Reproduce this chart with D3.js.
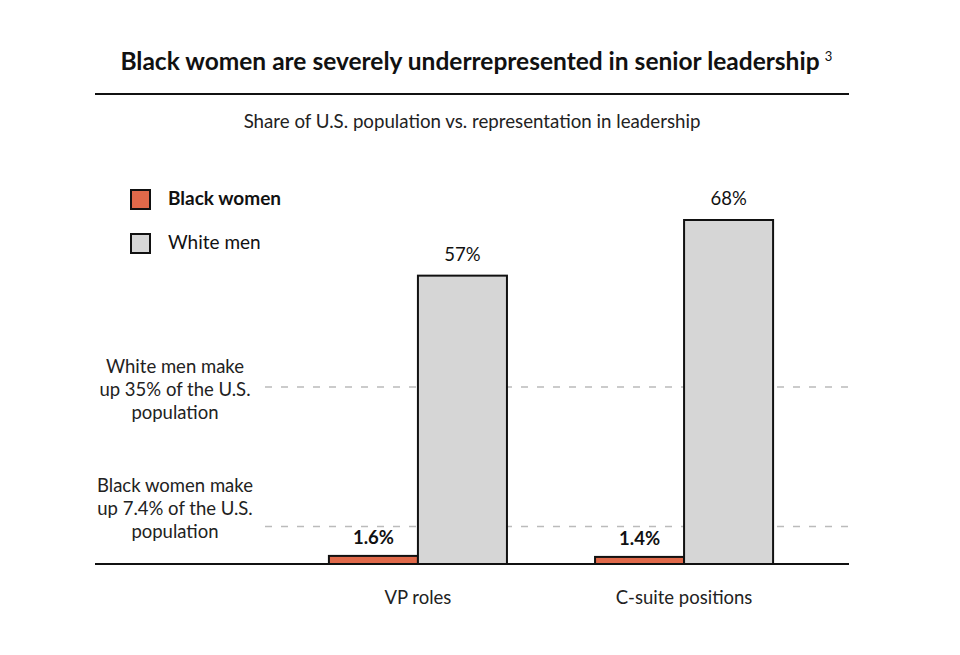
<!DOCTYPE html>
<html><head><meta charset="utf-8">
<script src="https://cdn.jsdelivr.net/npm/d3@7"></script>
<style>body{margin:0;background:#fff;} svg{display:block;font-family:Lato,"Open Sans",sans-serif;}</style>
</head><body><svg id="c" width="960" height="655"></svg>
<script>
const categories = ["VP roles", "C-suite positions"];
const seriesNames = ["Black women", "White men"];
const blackWomen = [1.6, 1.4];
const whiteMen = [57, 68];
const valueLabels = [["1.6%", "57%"], ["1.4%", "68%"]];
const refValues = [35, 7.4];
const refLabels = [["White men make", "up 35% of the U.S.", "population"], ["Black women make", "up 7.4% of the U.S.", "population"]];
const colors = ["#E0694A", "#D6D6D6"];

const svg = d3.select("#c");
const left = 95, right = 849, baseY = 564;
const refLabelShift = [9, -12];
const y = d3.scaleLinear().domain([0, 68]).range([baseY, 220]);
const x0 = d3.scaleBand().domain(categories).range([285, 817]).paddingInner(0.331).paddingOuter(0.165);
const x1 = d3.scaleBand().domain(seriesNames).range([0, x0.bandwidth()]);

// title
const title = svg.append("text").attr("x", 470).attr("y", 70).attr("text-anchor", "middle")
  .attr("font-size", 24.5).attr("font-weight", 700).attr("fill", "#111")
  .text("Black women are severely underrepresented in senior leadership");
const tb = title.node().getBBox();
svg.append("text").attr("x", tb.x + tb.width + 5).attr("y", 61).attr("font-size", 13).attr("fill", "#111").text("3");
svg.append("line").attr("x1", left).attr("x2", right).attr("y1", 94).attr("y2", 94).attr("stroke", "#111").attr("stroke-width", 2);
svg.append("text").attr("x", 472).attr("y", 128).attr("text-anchor", "middle")
  .attr("font-size", 18.7).attr("fill", "#222").text("Share of U.S. population vs. representation in leadership");

// legend
seriesNames.forEach((s, i) => {
  const ly = 190 + i * 44;
  svg.append("rect").attr("x", 131).attr("y", ly).attr("width", 19).attr("height", 19)
    .attr("fill", colors[i]).attr("stroke", "#111").attr("stroke-width", 2);
  svg.append("text").attr("x", 168).attr("y", ly + 15).attr("font-size", 19)
    .attr("font-weight", i === 0 ? 700 : 400).attr("fill", "#111").text(s);
});

// reference lines
refValues.forEach((v, i) => {
  svg.append("line").attr("x1", 265).attr("x2", right).attr("y1", y(v)).attr("y2", y(v))
    .attr("stroke", "#bbb").attr("stroke-width", 1.5).attr("stroke-dasharray", "7,9");
  const t = svg.append("text").attr("text-anchor", "middle").attr("font-size", 18.5).attr("fill", "#222");
  refLabels[i].forEach((ln, j) => {
    t.append("tspan").attr("x", 175).attr("y", y(v) + refLabelShift[i] + (j - 1) * 23).text(ln);
  });
});

// bars
const data = categories.map((c, i) => ({cat: c, vals: [blackWomen[i], whiteMen[i]]}));
const g = svg.selectAll("g.grp").data(data).join("g").attr("class", "grp")
  .attr("transform", d => `translate(${x0(d.cat)},0)`);
g.selectAll("rect").data(d => d.vals.map((v, k) => ({v, k}))).join("rect")
  .attr("x", d => x1(seriesNames[d.k])).attr("width", x1.bandwidth())
  .attr("y", d => y(d.v)).attr("height", d => baseY - y(d.v))
  .attr("fill", d => colors[d.k]).attr("stroke", "#111").attr("stroke-width", 2);
g.selectAll("text.val").data((d, i) => d.vals.map((v, k) => ({v, k, lab: valueLabels[i][k]}))).join("text")
  .attr("class", "val").attr("text-anchor", "middle")
  .attr("x", d => x1(seriesNames[d.k]) + x1.bandwidth() / 2)
  .attr("y", d => y(d.v) - (d.k === 0 ? 12 : 15))
  .attr("font-size", 18.5).attr("font-weight", d => d.k === 0 ? 700 : 400).attr("fill", "#111")
  .text(d => d.lab);

// baseline
svg.append("line").attr("x1", left).attr("x2", right).attr("y1", baseY).attr("y2", baseY).attr("stroke", "#111").attr("stroke-width", 2);

// x axis labels
const xAxis = d3.axisBottom(x0).tickSize(0).tickPadding(27);
const ax = svg.append("g").attr("transform", `translate(0,${baseY})`).call(xAxis);
ax.select(".domain").remove();
ax.selectAll("text").attr("font-size", 18.5).attr("fill", "#222").attr("font-family", "Lato,'Open Sans',sans-serif");
</script></body></html>
